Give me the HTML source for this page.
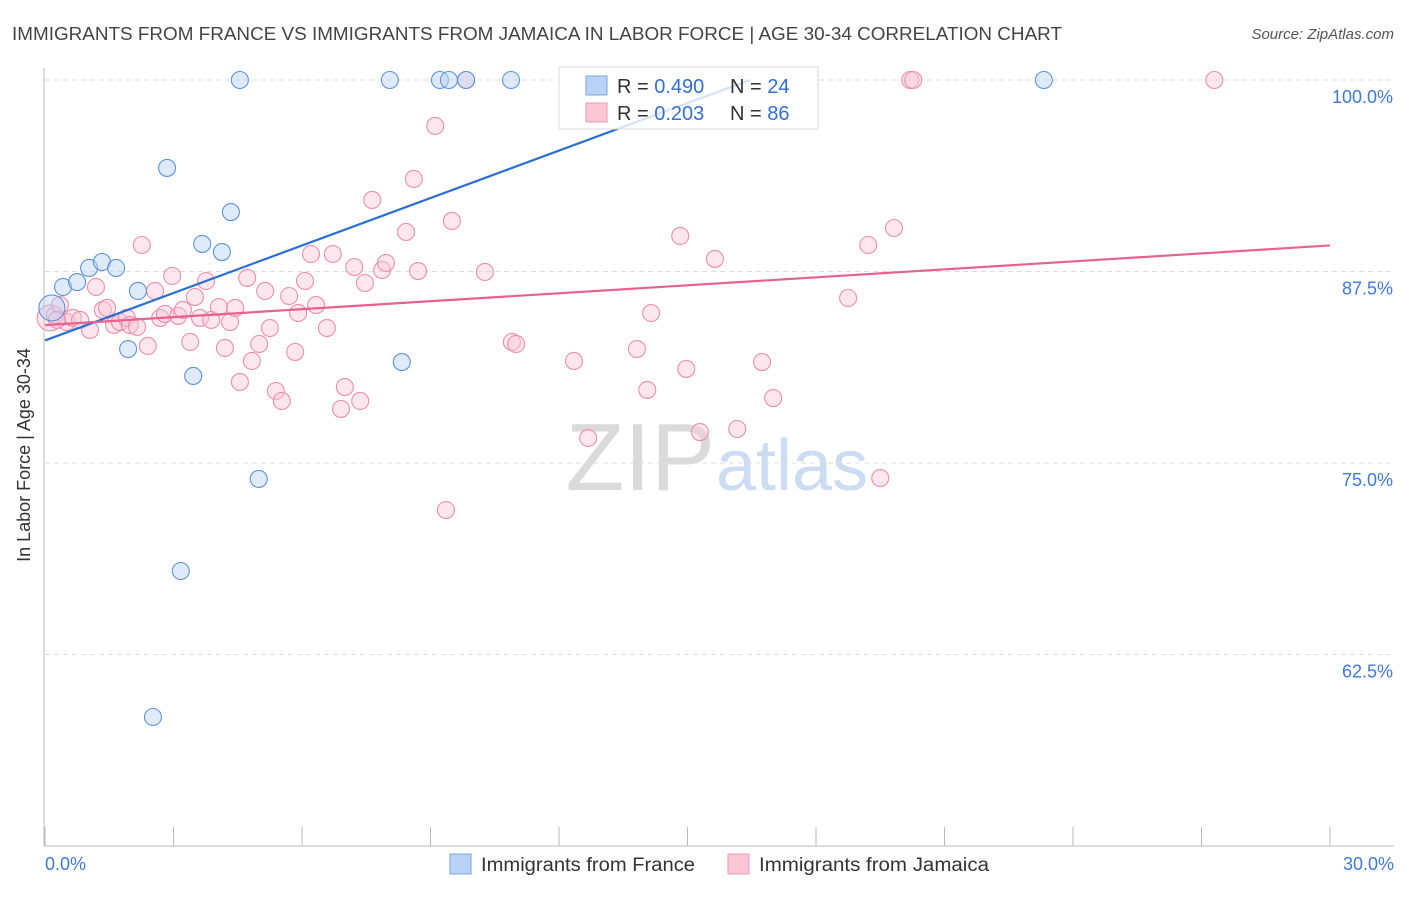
<!DOCTYPE html>
<html><head><meta charset="utf-8">
<style>
body{margin:0;background:#fff;font-family:"Liberation Sans",sans-serif;}
svg text{font-family:"Liberation Sans",sans-serif;}
</style></head>
<body>
<svg id="chart" width="1406" height="892">
<text x="12" y="40" font-size="18" fill="#444" textLength="1050" lengthAdjust="spacingAndGlyphs">IMMIGRANTS FROM FRANCE VS IMMIGRANTS FROM JAMAICA IN LABOR FORCE | AGE 30-34 CORRELATION CHART</text>
<text x="1394" y="39" font-size="15" fill="#555" font-style="italic" text-anchor="end">Source: ZipAtlas.com</text>
<text x="715" y="490" font-size="96" fill="#dadada" text-anchor="end" font-family="Liberation Serif">ZIP</text>
<text x="716" y="490" font-size="72" fill="#cbdcf3">atlas</text>
<g id="grid"></g>
<g id="axes"></g>
<g id="points"></g>
<g id="lines"></g>
<text x="30" y="455" font-size="18" fill="#333" text-anchor="middle" transform="rotate(-90 30 455)">In Labor Force | Age 30-34</text>
<g>
<rect x="559" y="67" width="259" height="62" fill="#fff" fill-opacity="0.8" stroke="#ddd"/>
<rect x="586" y="76" width="21" height="19" fill="#b9d3f5" stroke="#7aa6e3"/>
<rect x="586" y="103" width="21" height="19" fill="#fbc7d6" stroke="#ef9ab5"/>
<text x="617" y="93" font-size="20" fill="#333">R = <tspan fill="#3370d4">0.490</tspan></text>
<text x="730" y="93" font-size="20" fill="#333">N = <tspan fill="#3370d4">24</tspan></text>
<text x="617" y="120" font-size="20" fill="#333">R = <tspan fill="#3370d4">0.203</tspan></text>
<text x="730" y="120" font-size="20" fill="#333">N = <tspan fill="#3370d4">86</tspan></text>
</g>
<g>
<rect x="450" y="854" width="21" height="20" fill="#b9d3f5" stroke="#7aa6e3"/>
<text x="481" y="871" font-size="19" fill="#333" textLength="214" lengthAdjust="spacingAndGlyphs">Immigrants from France</text>
<rect x="728" y="854" width="21" height="20" fill="#fbc7d6" stroke="#ef9ab5"/>
<text x="759" y="871" font-size="19" fill="#333" textLength="230" lengthAdjust="spacingAndGlyphs">Immigrants from Jamaica</text>
</g>
</svg>
<script>
const xTicks=[0,3,6,9,12,15,18,21,24,27,30];
const yTicks=[100,87.5,75,62.5];
const yTickLabels=["100.0%","87.5%","75.0%","62.5%"];
const franceX=[0.16,0.42,0.75,1.03,1.33,1.66,1.94,2.17,2.85,3.17,2.52,3.46,3.67,4.13,4.34,4.55,4.99,8.05,9.22,9.43,9.83,10.88,8.33,23.32];
const franceY=[85.12,86.49,86.81,87.73,88.12,87.73,82.44,86.23,94.26,67.95,58.42,80.68,89.30,88.77,91.38,100,73.96,100,100,100,100,100,81.59,100];
const jamX=[0.12,0.23,0.35,0.51,0.65,0.82,1.05,1.19,1.35,1.45,1.61,1.75,1.91,1.98,2.15,2.26,2.40,2.57,2.69,2.80,2.97,3.11,3.22,3.39,3.50,3.62,3.76,3.88,4.06,4.20,4.32,4.44,4.55,4.72,4.83,5.00,5.14,5.25,5.39,5.53,5.70,5.84,5.91,6.07,6.21,6.33,6.58,6.72,6.91,7.00,7.22,7.36,7.47,7.64,7.87,7.96,8.43,8.61,8.71,9.11,9.36,9.50,9.83,10.27,10.90,11.00,12.35,12.68,13.82,14.06,14.15,14.83,14.97,15.29,15.64,16.16,16.74,17.00,18.75,19.22,19.50,19.82,20.20,20.27,27.30,0.28];
const jamY=[84.47,84.66,85.31,84.20,84.47,84.34,83.68,86.49,84.99,85.12,84.01,84.20,84.47,84.01,83.88,89.23,82.64,86.23,84.47,84.73,87.21,84.60,84.99,82.90,85.84,84.47,86.88,84.34,85.18,82.51,84.20,85.12,80.29,87.08,81.66,82.77,86.23,83.81,79.70,79.05,85.90,82.25,84.79,86.88,88.64,85.31,83.81,88.64,78.53,79.96,87.79,79.05,86.75,92.17,87.60,88.06,90.08,93.54,87.53,97.00,71.93,90.80,100,87.47,82.90,82.77,81.66,76.63,82.44,79.77,84.79,89.82,81.14,77.02,88.32,77.22,81.59,79.24,85.77,89.23,74.02,90.34,100,100,100,84.34];
const franceTrend=[0,83.0,16.46,100];
const jamTrend=[0,84.0,30,89.2];
const X=v=>45+v/30*1285;
const Y=v=>80+(100-v)/12.5*191.5;
const NS="http://www.w3.org/2000/svg";
function mk(t,a,p){const e=document.createElementNS(NS,t);for(const k in a)e.setAttribute(k,a[k]);p.appendChild(e);return e;}
const grid=document.getElementById('grid'),axes=document.getElementById('axes'),pts=document.getElementById('points'),lines=document.getElementById('lines');
yTicks.forEach((v,i)=>{
 const l=mk('line',{x1:45,x2:1394,y1:Y(v),y2:Y(v),stroke:'#ddd','stroke-dasharray':'5,4'},grid);
 
 
 const t=mk('text',{x:1393,y:Y(v)+23,'font-size':18,fill:'#3f7ad8','text-anchor':'end'},grid);
 t.textContent=yTickLabels[i];
 
 
});
const ya=mk('line',{x1:44,x2:44,y1:68,y2:846,stroke:'#bbb'},axes);


const xa=mk('line',{x1:44,x2:1394,y1:846,y2:846,stroke:'#bbb'},axes);


xTicks.forEach(v=>{
 const l=mk('line',{x1:X(v),x2:X(v),y1:827,y2:846,stroke:'#bbb'},axes);
 
 
});
[[0,'0.0%','start',45],[30,'30.0%','end',1394]].forEach(a=>{
 const t=mk('text',{x:a[3],y:870,'font-size':18,fill:'#3f7ad8','text-anchor':a[2]},axes);
 t.textContent=a[1];
 
 
});
function dots(xs,ys,fill,stroke,name){
 xs.forEach((x,i)=>{
  const c=mk('circle',{cx:X(x),cy:Y(ys[i]),r:(i===0?13:8.5),fill:fill,'fill-opacity':0.45,stroke:stroke,'stroke-width':1.1},pts);
  
  
 });
}
dots(jamX,jamY,'#fbc7d6','#ec8fae','jamaica-point');
dots(franceX,franceY,'#b9d3f5','#5d93de','france-point');
const bl=mk('line',{x1:X(franceTrend[0]),y1:Y(franceTrend[1]),x2:X(franceTrend[2]),y2:Y(franceTrend[3]),stroke:'#2a6fd6','stroke-width':2.2},lines);


const pl=mk('line',{x1:X(jamTrend[0]),y1:Y(jamTrend[1]),x2:X(jamTrend[2]),y2:Y(jamTrend[3]),stroke:'#e8628f','stroke-width':2.2},lines);


</script>
</body></html>
